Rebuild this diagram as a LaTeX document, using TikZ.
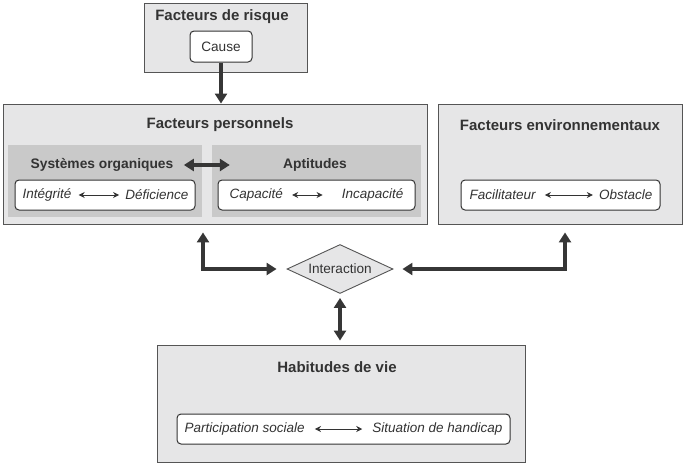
\documentclass[tikz,border=0pt]{standalone}
\usepackage{fontspec}
\setmainfont{Liberation Sans}
\usetikzlibrary{shapes.geometric,arrows.meta,positioning}

\definecolor{outerfill}{HTML}{E6E6E7}
\definecolor{innerfill}{HTML}{C9C9C9}
\definecolor{boxline}{HTML}{555555}
\definecolor{arrowgray}{HTML}{363636}
\definecolor{txtgray}{HTML}{333333}

\tikzset{
  outerbox/.style={draw=boxline,line width=0.9pt,fill=outerfill,inner sep=0pt},
  innerbox/.style={fill=innerfill,inner sep=0pt},
  whitebox/.style={draw=txtgray,line width=1pt,fill=white,rounded corners=4pt,inner sep=0pt},
  ttl/.style={text=txtgray,font=\fontsize{15}{18}\selectfont\bfseries},
  subttl/.style={text=txtgray,font=\fontsize{13.8}{16}\selectfont\bfseries},
  itxt/.style={text=txtgray,font=\fontsize{13.5}{16}\selectfont\itshape,inner sep=0pt},
  ntxt/.style={text=txtgray,font=\fontsize{13.6}{16}\selectfont},
  bigarr/.style={draw=arrowgray,line width=3.2pt,{Triangle[length=10pt,width=12pt]}-{Triangle[length=10pt,width=12pt]}},
  smallarr/.style={draw=txtgray,line width=0.9pt,{Stealth[length=6pt,width=6pt]}-{Stealth[length=6pt,width=6pt]}}
}

\begin{document}
\begin{tikzpicture}[x=1pt,y=1pt,yscale=-1,xscale=1]
			\useasboundingbox (0,0) rectangle (684,463);

			% boxes
			\node[outerbox,minimum width=163,minimum height=69] (risque) at (225.5,37.5) {};
			\node[outerbox,minimum width=424,minimum height=120] (perso) at (215,164) {};
			\node[outerbox,minimum width=244,minimum height=120] (env) at (560,164) {};
			\node[outerbox,minimum width=368,minimum height=117] (hab) at (341,403.5) {};
			\node[innerbox,minimum width=194,minimum height=72] (syst) at (105,181) {};
			\node[innerbox,minimum width=209,minimum height=72] (apt) at (316.5,181) {};

			\node[whitebox,minimum width=62,minimum height=31] (cause) at (221,46.5) {};
			\node[whitebox,minimum width=180,minimum height=30] (integbox) at (105,195) {};
			\node[whitebox,minimum width=197,minimum height=30] (capbox) at (316.5,195) {};
			\node[whitebox,minimum width=199,minimum height=30] (facilbox) at (560.5,195) {};
			\node[whitebox,minimum width=333,minimum height=30] (partbox) at (343.5,429) {};

			\node[diamond,draw=boxline,line width=0.9pt,fill=outerfill,inner sep=0pt,aspect=2.2,minimum width=106,minimum height=49] (inter) at (340,269) {};

			% titles
			\node[ttl] (risquet) at (222,17) {Facteurs de risque};
			\node[ntxt] at (cause) {Cause};
			\node[ttl] (persot) at (220,125) {Facteurs personnels};
			\node[ttl] (envt) at (560,125) {Facteurs environnementaux};
			\node[ttl] (habt) at (337,367) {Habitudes de vie};
			\node[subttl] (systt) at (102,165) {Systèmes organiques};
			\node[subttl] (aptt) at (315,165) {Aptitudes};
			\node[ntxt] (intert) at (inter) {Interaction};

			% texts of the white boxes
			\node[itxt,anchor=west] (integ) at ([xshift=8]integbox.west) {Intégrité};
			\node[itxt,anchor=east] (defic) at ([xshift=-7]integbox.east) {Déficience};
			\node[itxt,anchor=west] (capac) at ([xshift=12]capbox.west) {Capacité};
			\node[itxt,anchor=east] (incap) at ([xshift=-12]capbox.east) {Incapacité};
			\node[itxt,anchor=west] (facil) at ([xshift=9]facilbox.west) {Facilitateur};
			\node[itxt,anchor=east] (obst) at ([xshift=-8]facilbox.east) {Obstacle};
			\node[itxt,anchor=west] (part) at ([xshift=8]partbox.west) {Participation sociale};
			\node[itxt,anchor=east] (situ) at ([xshift=-8]partbox.east) {Situation de handicap};

			\draw[smallarr] ([xshift=7]integ.east) -- ([xshift=-6]defic.west);
			\draw[smallarr] ([xshift=9]capac.east) -- ([xshift=-19]incap.west);
			\draw[smallarr] ([xshift=9]facil.east) -- ([xshift=-6]obst.west);
			\draw[smallarr] ([xshift=10]part.east) -- ([xshift=-10]situ.west);

			% connectors
			\coordinate (lc) at (203,269);
			\coordinate (rc) at (565,269);
			\draw[draw=arrowgray,line width=3.2pt,-{Triangle[length=10pt,width=12pt]}] (cause.south) -- (cause.south |- perso.north);
			\draw[bigarr] ([xshift=7]systt.east) -- ([xshift=18]apt.west |- systt.east);
			\draw[bigarr,shorten <=8pt,shorten >=10pt] (lc |- perso.south) |- (inter.west);
			\draw[bigarr,shorten <=8pt,shorten >=9pt] (rc |- env.south) |- (inter.east);
			\draw[bigarr,shorten <=4pt,shorten >=4pt] (inter.south) -- (inter.south |- hab.north);
			\end{tikzpicture}
\end{document}
